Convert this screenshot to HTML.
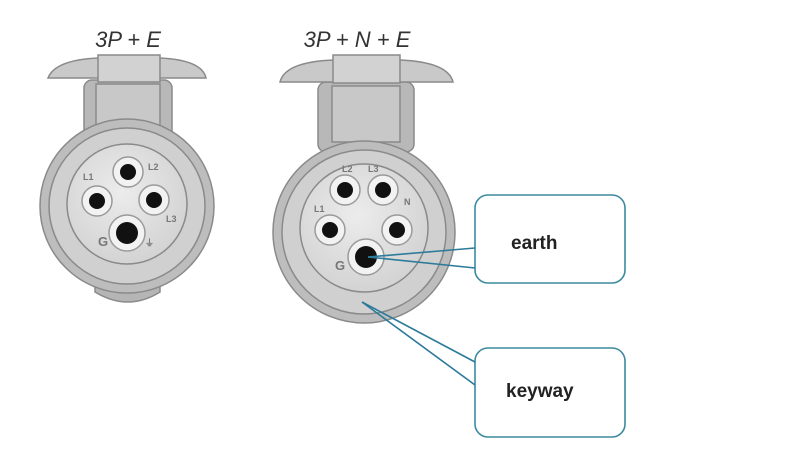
<!DOCTYPE html>
<html><head><meta charset="utf-8"><style>html,body{margin:0;padding:0;background:#fff}svg{display:block}</style></head>
<body>
<svg width="800" height="453" viewBox="0 0 800 453" xmlns="http://www.w3.org/2000/svg">
<defs>
<radialGradient id="face" cx="0.45" cy="0.4" r="0.7"><stop offset="0" stop-color="#ececec"/><stop offset="1" stop-color="#cfcfcf"/></radialGradient>
</defs>
<g font-family="Liberation Sans, sans-serif" font-style="italic" font-size="22" fill="#333">
<text x="128" y="47" text-anchor="middle">3P + E</text>
<text x="357" y="47" text-anchor="middle">3P + N + E</text>
</g>
<!-- Left connector -->
<g stroke="#8a8a8a" stroke-width="1.5">
<rect x="84" y="80" width="88" height="60" rx="8" fill="#b8b8b8"/>
<rect x="96" y="84" width="64" height="50" fill="#c8c8c8"/>
<path d="M95 292 Q128 312 160 292 L160 280 L95 280Z" fill="#b5b5b5"/>
<circle cx="127" cy="206" r="87" fill="#bdbdbd"/>
<circle cx="127" cy="206" r="78" fill="#d0d0d0"/>
<circle cx="127" cy="204" r="60" fill="url(#face)"/>
<path d="M48 78 Q55 60 98 58 L160 58 Q202 60 206 78 Z" fill="#c9c9c9"/>
<rect x="98" y="55" width="62" height="27" fill="#d2d2d2"/>
</g>
<g fill="#f2f2f2" stroke="#9a9a9a" stroke-width="1.5">
<circle cx="128" cy="172" r="15"/><circle cx="97" cy="201" r="15"/><circle cx="154" cy="200" r="15"/><circle cx="127" cy="233" r="18"/>
</g>
<g fill="#111"><circle cx="128" cy="172" r="8"/><circle cx="97" cy="201" r="8"/><circle cx="154" cy="200" r="8"/><circle cx="127" cy="233" r="11"/></g>
<g font-family="Liberation Sans, sans-serif" font-size="9" fill="#777" font-weight="bold">
<text x="148" y="170">L2</text><text x="83" y="180">L1</text><text x="166" y="222">L3</text><text x="98" y="246" font-size="13">G</text><text x="145" y="246">⏚</text>
</g>
<!-- Right connector -->
<g stroke="#8a8a8a" stroke-width="1.5">
<rect x="318" y="82" width="96" height="70" rx="8" fill="#b8b8b8"/>
<rect x="332" y="86" width="68" height="56" fill="#c8c8c8"/>
<path d="M322 300 Q364 330 405 300 L405 285 L322 285Z" fill="#b5b5b5"/>
<circle cx="364" cy="232" r="91" fill="#bdbdbd"/>
<circle cx="364" cy="232" r="82" fill="#d0d0d0"/>
<circle cx="364" cy="228" r="64" fill="url(#face)"/>
<path d="M280 82 Q285 62 333 60 L400 60 Q448 62 453 82 Z" fill="#c9c9c9"/>
<rect x="333" y="55" width="67" height="28" fill="#d2d2d2"/>
</g>
<g fill="#f2f2f2" stroke="#9a9a9a" stroke-width="1.5">
<circle cx="345" cy="190" r="15"/><circle cx="383" cy="190" r="15"/><circle cx="330" cy="230" r="15"/><circle cx="397" cy="230" r="15"/><circle cx="366" cy="257" r="18"/>
</g>
<g fill="#111"><circle cx="345" cy="190" r="8"/><circle cx="383" cy="190" r="8"/><circle cx="330" cy="230" r="8"/><circle cx="397" cy="230" r="8"/><circle cx="366" cy="257" r="11"/></g>
<g font-family="Liberation Sans, sans-serif" font-size="9" fill="#777" font-weight="bold">
<text x="342" y="172">L2</text><text x="368" y="172">L3</text><text x="314" y="212">L1</text><text x="404" y="205">N</text><text x="335" y="270" font-size="13">G</text>
</g>
<!-- boxes -->
<g fill="#fff" stroke="#3c8a9e" stroke-width="1.6">
<rect x="475" y="195" width="150" height="88" rx="13"/>
<rect x="475" y="348" width="150" height="89" rx="13"/>
</g>
<!-- callouts -->
<g stroke="#2d7a9a" stroke-width="1.6" fill="none">
<line x1="368" y1="257" x2="475" y2="248"/><line x1="368" y1="257" x2="475" y2="268"/>
<line x1="362" y1="302" x2="475" y2="362"/><line x1="362" y1="302" x2="475" y2="385"/>
</g>
<g font-family="Liberation Sans, sans-serif" font-size="19" font-weight="bold" fill="#222">
<text x="511" y="249">earth</text>
<text x="506" y="397">keyway</text>
</g>
</svg>
</body></html>
